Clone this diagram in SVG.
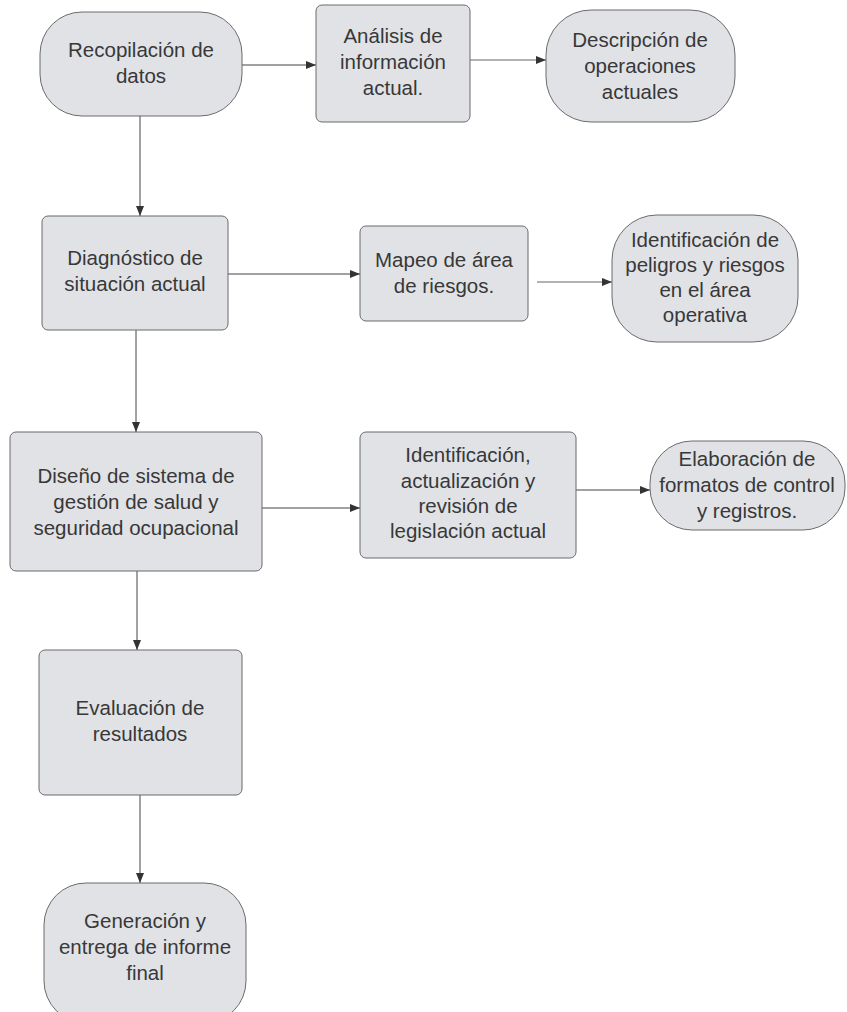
<svg xmlns="http://www.w3.org/2000/svg" width="847" height="1012" viewBox="0 0 847 1012">
<style>
.n{fill:#e0e2e6;stroke:#6b6b6b;stroke-width:1}
.t{font-family:"Liberation Sans",Arial,sans-serif;font-size:20.5px;fill:#383838;text-anchor:middle}
.c{stroke:#444;stroke-width:1;fill:none;marker-end:url(#a)}
.g{stroke:#999;stroke-width:1.5;fill:none;marker-end:url(#a)}
</style>
<defs>
<marker id="a" viewBox="0 0 10 10" refX="10" refY="5" markerWidth="10" markerHeight="10" markerUnits="userSpaceOnUse" orient="auto">
<path d="M0,1 L10,5 L0,9 z" fill="#333"/>
</marker>
</defs>
<g id="connectors">
<line class="c" x1="242" y1="65" x2="316" y2="65"/>
<line class="g" x1="470" y1="60" x2="546" y2="60"/>
<line class="c" x1="140" y1="116" x2="140" y2="216"/>
<line class="c" x1="228" y1="274" x2="360" y2="274"/>
<line class="g" x1="537" y1="282" x2="612" y2="282"/>
<line class="c" x1="136" y1="330" x2="136" y2="432"/>
<line class="c" x1="262" y1="508" x2="360" y2="508"/>
<line class="c" x1="576" y1="490" x2="650" y2="490"/>
<line class="c" x1="137" y1="571" x2="137" y2="650"/>
<line class="c" x1="140" y1="795" x2="140" y2="883"/>
</g>
<g id="n1"><rect class="n" x="40" y="12" width="202" height="104" rx="42"/>
<text class="t" x="141" y="57">Recopilación de</text><text class="t" x="141" y="83">datos</text></g>
<g id="n2"><rect class="n" x="316" y="5" width="154" height="117" rx="6"/>
<text class="t" x="393" y="43">Análisis de</text><text class="t" x="393" y="69">información</text><text class="t" x="393" y="95">actual.</text></g>
<g id="n3"><rect class="n" x="546" y="10" width="189" height="112" rx="45"/>
<text class="t" x="640" y="47">Descripción de</text><text class="t" x="640" y="73">operaciones</text><text class="t" x="640" y="99">actuales</text></g>
<g id="n4"><rect class="n" x="42" y="216" width="186" height="114" rx="6"/>
<text class="t" x="135" y="265">Diagnóstico de</text><text class="t" x="135" y="291">situación actual</text></g>
<g id="n5"><rect class="n" x="360" y="226" width="168" height="95" rx="6"/>
<text class="t" x="444" y="267">Mapeo de área</text><text class="t" x="444" y="293">de riesgos.</text></g>
<g id="n6"><rect class="n" x="612" y="215" width="186" height="127" rx="45"/>
<text class="t" x="705" y="247">Identificación de</text><text class="t" x="705" y="272">peligros y riesgos</text><text class="t" x="705" y="297">en el área</text><text class="t" x="705" y="322">operativa</text></g>
<g id="n7"><rect class="n" x="10" y="432" width="252" height="139" rx="6"/>
<text class="t" x="136" y="483">Diseño de sistema de</text><text class="t" x="136" y="509">gestión de salud y</text><text class="t" x="136" y="535">seguridad ocupacional</text></g>
<g id="n8"><rect class="n" x="360" y="432" width="216" height="126" rx="6"/>
<text class="t" x="468" y="462">Identificación,</text><text class="t" x="468" y="488">actualización y</text><text class="t" x="468" y="513">revisión de</text><text class="t" x="468" y="538">legislación actual</text></g>
<g id="n9"><rect class="n" x="650" y="441" width="195" height="89" rx="42"/>
<text class="t" x="747" y="466">Elaboración de</text><text class="t" x="747" y="492">formatos de control</text><text class="t" x="747" y="518">y registros.</text></g>
<g id="n10"><rect class="n" x="39" y="650" width="203" height="145" rx="6"/>
<text class="t" x="140" y="715">Evaluación de</text><text class="t" x="140" y="741">resultados</text></g>
<g id="n11"><rect class="n" x="44" y="883" width="202" height="140" rx="42"/>
<text class="t" x="145" y="928">Generación y</text><text class="t" x="145" y="954">entrega de informe</text><text class="t" x="145" y="980">final</text></g>
</svg>
